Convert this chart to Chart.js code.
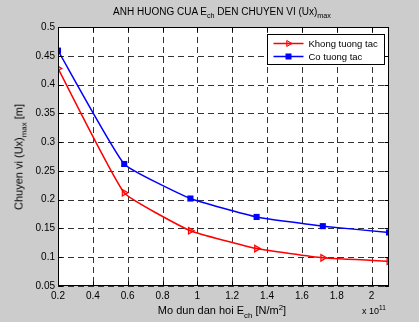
<!DOCTYPE html>
<html>
<head>
<meta charset="utf-8">
<script src="https://cdn.jsdelivr.net/npm/chart.js@4.4.1/dist/chart.umd.min.js"></script>
<style>
  html, body { margin: 0; padding: 0; background: #cccccc; }
  #wrap { position: relative; width: 419px; height: 322px; overflow: hidden;
          font-family: "Liberation Sans", Arial, Helvetica, sans-serif; color: #000; }
  #chart { position: absolute; left: 0; top: 0; }
  .lbl { position: absolute; white-space: nowrap; line-height: 1; }
  .lbl sub, .lbl sup { font-size: 72%; line-height: 0; }
  .lbl sub { vertical-align: -0.45em; }
  .lbl sup { vertical-align: 0.55em; }
  #title { left: 222px; top: 7px; font-size: 10px; transform: translateX(-50%); }
  #xlabel { left: 222px; top: 305px; font-size: 11px; transform: translateX(-50%); }
  #ylabel { left: 19px; top: 157px; font-size: 11px; transform: translate(-50%, -50%) rotate(-90deg); }
  #xexp { left: 362px; top: 307px; font-size: 9px; }
</style>
</head>
<body>
<div id="wrap">
  <canvas id="chart" width="419" height="322"></canvas>
  <div class="lbl" id="title">ANH HUONG CUA E<sub>ch</sub> DEN CHUYEN VI (Ux)<sub>max</sub></div>
  <div class="lbl" id="xlabel">Mo dun dan hoi E<sub>ch</sub> [N/m<sup>2</sup>]</div>
  <div class="lbl" id="ylabel">Chuyen vi (Ux)<sub>max</sub> [m]</div>
  <div class="lbl" id="xexp">x 10<sup>11</sup></div>
</div>
<script>
// Elastic modulus E_ch (x 10^11 N/m^2)
const modulusValues = [0.2, 0.58, 0.96, 1.34, 1.72, 2.1];
// Maximum displacement (m)
const khongTuongTac = [0.428, 0.212, 0.146, 0.115, 0.099, 0.093];
const coTuongTac    = [0.459, 0.262, 0.202, 0.170, 0.154, 0.143];
const seriesNames = ['Khong tuong tac', 'Co tuong tac'];

const xTicks = [0.2, 0.4, 0.6, 0.8, 1, 1.2, 1.4, 1.6, 1.8, 2];
const xTickLabels = ['0.2', '0.4', '0.6', '0.8', '1', '1.2', '1.4', '1.6', '1.8', '2'];
const yTicks = [0.05, 0.1, 0.15, 0.2, 0.25, 0.3, 0.35, 0.4, 0.45, 0.5];
const yTickLabels = ['0.05', '0.1', '0.15', '0.2', '0.25', '0.3', '0.35', '0.4', '0.45', '0.5'];

const FONT = '"Liberation Sans", Arial, Helvetica, sans-serif';
const RED = '#ff0000';
const BLUE = '#0000ff';

function toPoints(ys) {
  return modulusValues.map((x, i) => ({ x: x, y: ys[i] }));
}

// White axes background, dashed grid, solid box with inward ticks, boxed legend
const axesPlugin = {
  id: 'axesPlugin',
  beforeDatasetsDraw(chart) {
    const { ctx, chartArea: a, scales: { x, y } } = chart;
    ctx.save();
    ctx.fillStyle = '#ffffff';
    ctx.fillRect(a.left, a.top, a.right - a.left, a.bottom - a.top);
    ctx.strokeStyle = '#333333';
    ctx.lineWidth = 1;
    ctx.setLineDash([6, 4]);
    xTicks.forEach(v => {
      const px = Math.round(x.getPixelForValue(v)) + 0.5;
      ctx.beginPath(); ctx.moveTo(px, a.top); ctx.lineTo(px, a.bottom); ctx.stroke();
    });
    yTicks.forEach(v => {
      const py = Math.round(y.getPixelForValue(v)) + 0.5;
      ctx.beginPath(); ctx.moveTo(a.left, py); ctx.lineTo(a.right, py); ctx.stroke();
    });
    ctx.restore();
  },
  afterDatasetsDraw(chart) {
    const { ctx, chartArea: a, scales: { x, y } } = chart;
    ctx.save();
    ctx.strokeStyle = '#000000';
    ctx.lineWidth = 1;
    ctx.setLineDash([]);
    const L = Math.round(a.left) + 0.5, R = Math.round(a.right) - 0.5;
    const T = Math.round(a.top) + 0.5, B = Math.round(a.bottom) - 0.5;
    ctx.strokeRect(L, T, R - L, B - T);
    const tl = 4;
    ctx.beginPath();
    xTicks.forEach(v => {
      const px = Math.round(x.getPixelForValue(v)) + 0.5;
      ctx.moveTo(px, B); ctx.lineTo(px, B - tl);
      ctx.moveTo(px, T); ctx.lineTo(px, T + tl);
    });
    yTicks.forEach(v => {
      const py = Math.round(y.getPixelForValue(v)) + 0.5;
      ctx.moveTo(L, py); ctx.lineTo(L + tl, py);
      ctx.moveTo(R, py); ctx.lineTo(R - tl, py);
    });
    ctx.stroke();

    // legend box in the upper right corner of the axes
    const bw = 117, bh = 30;
    const bx = Math.round(a.right) - 5 - bw + 0.5;
    const by = Math.round(a.top) + 7 + 0.5;
    ctx.fillStyle = '#ffffff';
    ctx.fillRect(bx, by, bw, bh);
    ctx.strokeRect(bx, by, bw, bh);
    ctx.font = '9.5px ' + FONT;
    ctx.textBaseline = 'middle';
    ctx.textAlign = 'left';
    chart.data.datasets.forEach((ds, i) => {
      const ry = by + 9 + i * 13;
      const x0 = bx + 6, x1 = bx + 36, xm = (x0 + x1) / 2;
      ctx.strokeStyle = ds.borderColor;
      ctx.lineWidth = ds.borderWidth;
      ctx.beginPath(); ctx.moveTo(x0, ry); ctx.lineTo(x1, ry); ctx.stroke();
      ctx.lineWidth = 1;
      if (ds.pointStyle === 'rect') {
        ctx.fillStyle = ds.borderColor;
        ctx.fillRect(xm - 3, ry - 3, 6, 6);
      } else {
        ctx.fillStyle = ds.pointBackgroundColor;
        ctx.beginPath();
        ctx.moveTo(xm + 3.5, ry);
        ctx.lineTo(xm - 1.75, ry - 3);
        ctx.lineTo(xm - 1.75, ry + 3);
        ctx.closePath();
        ctx.fill(); ctx.stroke();
      }
      ctx.fillStyle = '#000000';
      ctx.fillText(ds.label, x1 + 5, ry + 0.5);
    });
    ctx.restore();
  }
};

new Chart(document.getElementById('chart'), {
  type: 'line',
  data: {
    datasets: [
      {
        label: seriesNames[0],
        data: toPoints(khongTuongTac),
        borderColor: RED,
        borderWidth: 1.5,
        pointStyle: 'triangle',
        pointRotation: 90,
        pointRadius: 3.8,
        pointBorderWidth: 1.2,
        pointBorderColor: RED,
        pointBackgroundColor: 'rgba(255,0,0,0.25)',
        tension: 0.12,
        fill: false
      },
      {
        label: seriesNames[1],
        data: toPoints(coTuongTac),
        borderColor: BLUE,
        borderWidth: 1.5,
        pointStyle: 'rect',
        pointRadius: 4.3,
        pointBorderWidth: 0,
        pointBorderColor: BLUE,
        pointBackgroundColor: BLUE,
        tension: 0.12,
        fill: false
      }
    ]
  },
  options: {
    responsive: false,
    animation: false,
    devicePixelRatio: 1,
    layout: { padding: { top: 27, right: 30, left: 0, bottom: 0 } },
    plugins: { legend: { display: false }, tooltip: { enabled: false } },
    scales: {
      x: {
        type: 'linear',
        min: 0.2,
        max: 2.1,
        afterBuildTicks: s => { s.ticks = xTicks.map(v => ({ value: v })); },
        afterFit: s => { s.height = 36; },
        grid: { display: false, drawTicks: false },
        border: { display: false },
        ticks: {
          autoSkip: false, maxRotation: 0, padding: 4, color: '#000',
          font: { family: FONT, size: 10 },
          callback: (v, i) => xTickLabels[i]
        }
      },
      y: {
        type: 'linear',
        min: 0.05,
        max: 0.5,
        afterBuildTicks: s => { s.ticks = yTicks.map(v => ({ value: v })); },
        afterFit: s => { s.width = 58; },
        grid: { display: false, drawTicks: false },
        border: { display: false },
        ticks: {
          autoSkip: false, padding: 3, color: '#000',
          font: { family: FONT, size: 10 },
          callback: (v, i) => yTickLabels[i]
        }
      }
    }
  },
  plugins: [axesPlugin]
});
</script>
</body>
</html>
